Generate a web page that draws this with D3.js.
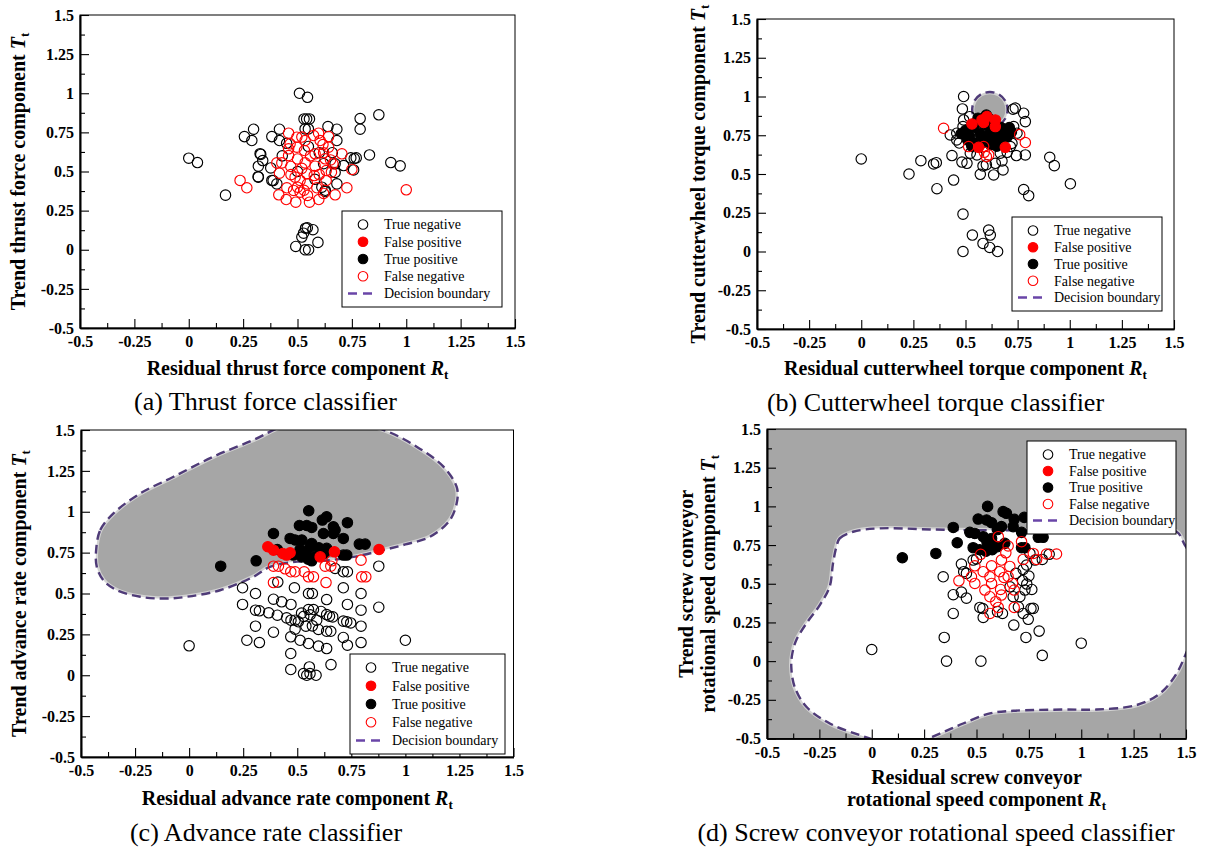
<!DOCTYPE html>
<html>
<head>
<meta charset="utf-8">
<script src="https://cdn.jsdelivr.net/npm/d3@7"></script>
<style>
  body { margin: 0; background: #fff; }
  svg { display: block; }
</style>
</head>
<body>
<svg id="fig" width="1211" height="849"></svg>
<script>
// ---------- shared labels ----------
const legendLabels = ["True negative", "False positive", "True positive", "False negative", "Decision boundary"];
const tickValues = [-0.5, -0.25, 0, 0.25, 0.5, 0.75, 1, 1.25, 1.5];
const tickLabels = ["-0.5", "-0.25", "0", "0.25", "0.5", "0.75", "1", "1.25", "1.5"];
const minorTickValues = [-0.375, -0.125, 0.125, 0.375, 0.625, 0.875, 1.125, 1.375];

// ---------- (a) thrust force classifier: [R_t, T_t] ----------
const thrustTN = [[0.0,0.585],[0.04,0.557],[0.169,0.349],[0.256,0.723],[0.298,0.77],[0.29,0.698],[0.331,0.609],[0.34,0.57],[0.32,0.534],[0.32,0.464],[0.382,0.723],[0.417,0.77],[0.417,0.698],[0.377,0.523],[0.382,0.443],[0.405,0.421],[0.509,1.0],[0.546,0.974],[0.53,0.836],[0.542,0.836],[0.555,0.836],[0.535,0.772],[0.55,0.772],[0.64,0.787],[0.681,0.77],[0.681,0.698],[0.788,0.838],[0.788,0.77],[0.874,0.862],[0.831,0.606],[0.745,0.587],[0.77,0.587],[0.758,0.51],[0.712,0.538],[0.929,0.557],[0.972,0.536],[0.681,0.421],[0.627,0.372],[0.612,0.4],[0.673,0.549],[0.673,0.494],[0.328,0.614],[0.319,0.467],[0.388,0.442],[0.628,0.38],[0.761,0.583],[0.537,0.138],[0.571,0.128],[0.528,0.106],[0.52,0.081],[0.594,0.047],[0.492,0.021],[0.535,0.0],[0.551,0.0],[0.545,0.14],[0.45,0.68],[0.6,0.62],[0.62,0.55],[0.5,0.5],[0.58,0.45],[0.66,0.62],[0.43,0.6],[0.55,0.66]];
const thrustFP = [];
const thrustTP = [];
const thrustFN = [[0.236,0.443],[0.267,0.396],[1.0,0.383],[0.727,0.396],[0.75,0.513],[0.704,0.613],[0.673,0.351],[0.598,0.321],[0.555,0.304],[0.492,0.304],[0.448,0.321],[0.414,0.351],[0.451,0.396],[0.417,0.489],[0.405,0.555],[0.428,0.555],[0.459,0.745],[0.459,0.645],[0.459,0.602],[0.469,0.532],[0.497,0.719],[0.497,0.655],[0.5,0.58],[0.489,0.464],[0.482,0.379],[0.512,0.368],[0.512,0.443],[0.535,0.698],[0.532,0.634],[0.535,0.555],[0.543,0.485],[0.546,0.421],[0.546,0.347],[0.574,0.73],[0.581,0.613],[0.581,0.534],[0.577,0.474],[0.589,0.396],[0.597,0.745],[0.604,0.698],[0.627,0.581],[0.643,0.723],[0.643,0.655],[0.632,0.506],[0.632,0.443],[0.652,0.574],[0.663,0.549],[0.656,0.496],[0.617,0.672],[0.466,0.677],[0.52,0.72],[0.56,0.6],[0.6,0.48],[0.5,0.4],[0.62,0.36],[0.53,0.38],[0.62,0.62],[0.47,0.48],[0.52,0.52]];
const thrustBoundary = null;

// ---------- (b) cutterwheel torque classifier ----------
const torqueTN = [[0,0.597],[0.229,0.5],[0.286,0.586],[0.347,0.565],[0.36,0.573],[0.363,0.405],[0.443,0.461],[0.435,0.619],[0.488,0.241],[0.533,0.106],[0.611,0.138],[0.619,0.106],[0.584,0.052],[0.616,0.026],[0.488,0.0],[0.654,0.0],[0.491,1.0],[0.485,0.92],[0.739,0.925],[0.728,0.918],[0.779,0.892],[0.787,0.838],[0.904,0.608],[0.926,0.554],[1.003,0.437],[0.779,0.4],[0.803,0.36],[0.787,0.623],[0.744,0.619],[0.68,0.526],[0.635,0.494],[0.571,0.498],[0.643,0.569],[0.675,0.584],[0.584,0.552],[0.507,0.569],[0.483,0.577],[0.427,0.752],[0.458,0.763],[0.458,0.72],[0.488,0.806],[0.491,0.849],[0.731,0.806],[0.747,0.763],[0.723,0.698],[0.715,0.677],[0.523,0.634],[0.555,0.623],[0.667,0.634],[0.6,0.56],[0.47,0.7],[0.7,0.64],[0.52,0.87]];
const torqueTP = [[0.5,0.78],[0.52,0.74],[0.54,0.8],[0.55,0.7],[0.57,0.76],[0.59,0.82],[0.6,0.88],[0.62,0.78],[0.63,0.72],[0.65,0.76],[0.67,0.8],[0.69,0.78],[0.7,0.74],[0.66,0.7],[0.58,0.7],[0.53,0.68],[0.56,0.86],[0.61,0.86],[0.64,0.84],[0.48,0.76],[0.51,0.72],[0.6,0.74],[0.68,0.72],[0.72,0.77],[0.62,0.69],[0.55,0.83],[0.65,0.68],[0.71,0.8]];
const torqueFP = [[0.531,0.823],[0.579,0.849],[0.603,0.871],[0.643,0.849],[0.643,0.806],[0.587,0.832],[0.563,0.672],[0.691,0.672]];
const torqueFN = [[0.395,0.795],[0.76,0.754],[0.787,0.703],[0.587,0.677],[0.611,0.623],[0.6,0.612],[0.515,0.677],[0.59,0.64]];
const torqueBoundary = [[0.702,0.915],[0.691,0.972],[0.660,1.014],[0.617,1.029],[0.574,1.014],[0.543,0.972],[0.532,0.915],[0.543,0.858],[0.574,0.816],[0.617,0.801],[0.660,0.816],[0.691,0.858]];

// ---------- (c) advance rate classifier ----------
const advanceTN = [[0,0.18],[1.0,0.214],[0.877,0.667],[0.877,0.416],[0.247,0.535],[0.247,0.433],[0.307,0.5],[0.307,0.398],[0.325,0.394],[0.368,0.382],[0.408,0.367],[0.307,0.3],[0.39,0.263],[0.267,0.214],[0.325,0.2],[0.39,0.465],[0.428,0.449],[0.471,0.433],[0.451,0.351],[0.471,0.337],[0.49,0.337],[0.505,0.327],[0.487,0.535],[0.49,0.282],[0.47,0.235],[0.513,0.214],[0.47,0.133],[0.47,0.035],[0.529,0.01],[0.544,0],[0.559,0.01],[0.587,0],[0.556,0.051],[0.552,0.194],[0.598,0.178],[0.636,0.163],[0.656,0.065],[0.552,0.5],[0.57,0.5],[0.552,0.402],[0.575,0.402],[0.57,0.302],[0.59,0.337],[0.598,0.28],[0.636,0.463],[0.636,0.371],[0.649,0.361],[0.664,0.357],[0.636,0.269],[0.655,0.269],[0.675,0.653],[0.713,0.633],[0.732,0.633],[0.713,0.535],[0.732,0.433],[0.713,0.331],[0.729,0.327],[0.747,0.32],[0.713,0.231],[0.732,0.184],[0.795,0.5],[0.795,0.398],[0.795,0.3],[0.795,0.2],[0.41,0.57],[0.53,0.36],[0.54,0.3],[0.52,0.38],[0.61,0.39],[0.56,0.37]];
const advanceTP = [[0.146,0.667],[0.31,0.7],[0.39,0.867],[0.408,0.769],[0.553,1.006],[0.51,0.916],[0.544,0.916],[0.567,0.904],[0.616,0.949],[0.636,0.969],[0.732,0.933],[0.667,0.908],[0.675,0.888],[0.621,0.867],[0.467,0.837],[0.49,0.827],[0.521,0.827],[0.567,0.806],[0.559,0.786],[0.636,0.776],[0.713,0.837],[0.787,0.802],[0.814,0.802],[0.729,0.735],[0.713,0.735],[0.482,0.735],[0.521,0.724],[0.55,0.71],[0.567,0.7],[0.575,0.724],[0.6,0.735],[0.625,0.745],[0.667,0.867],[0.513,0.769],[0.54,0.75],[0.6,0.78]];
const advanceFP = [[0.364,0.786],[0.39,0.765],[0.433,0.745],[0.451,0.735],[0.672,0.755],[0.878,0.769],[0.606,0.724],[0.467,0.749]];
const advanceFN = [[0.39,0.667],[0.413,0.667],[0.444,0.651],[0.47,0.633],[0.49,0.633],[0.39,0.567],[0.552,0.602],[0.575,0.602],[0.633,0.567],[0.629,0.667],[0.655,0.667],[0.795,0.704],[0.798,0.602],[0.817,0.602],[0.532,0.633],[0.66,0.7]];
const advanceBoundary = [[-0.43,0.766],[-0.411,0.888],[-0.35,0.99],[-0.226,1.112],[-0.072,1.214],[0.112,1.337],[0.297,1.439],[0.45,1.53],[0.7,1.56],[0.9,1.5],[1.052,1.398],[1.176,1.276],[1.237,1.153],[1.24,1.071],[1.206,0.949],[1.114,0.847],[1.0,0.8],[0.88,0.76],[0.76,0.724],[0.62,0.7],[0.5,0.695],[0.374,0.663],[0.297,0.602],[0.143,0.52],[-0.011,0.48],[-0.119,0.469],[-0.226,0.48],[-0.334,0.52],[-0.396,0.58],[-0.427,0.663]];

// ---------- (d) screw conveyor rotational speed classifier ----------
const screwTN = [[0,0.075],[0.357,0],[0.521,0],[0.346,0.153],[0.814,0.037],[1.0,0.116],[0.799,0.194],[0.736,0.153],[0.678,0.233],[0.747,0.27],[0.723,0.308],[0.771,0.341],[0.764,0.463],[0.74,0.498],[0.341,0.545],[0.389,0.429],[0.428,0.446],[0.452,0.407],[0.389,0.308],[0.428,0.627],[0.439,0.578],[0.516,0.347],[0.532,0.282],[0.624,0.308],[0.675,0.416],[0.707,0.416],[0.731,0.459],[0.688,0.567],[0.723,0.593],[0.739,0.621],[0.779,0.653],[0.814,0.657],[0.847,0.69],[0.755,0.696],[0.484,0.653],[0.452,0.567],[0.53,0.34],[0.72,0.52],[0.76,0.34],[0.5,0.66],[0.75,0.55],[0.7,0.35],[0.6,0.32],[0.66,0.48]];
const screwTP = [[0.146,0.668],[0.306,0.696],[0.389,0.864],[0.408,0.765],[0.553,1.0],[0.508,0.918],[0.548,0.912],[0.572,0.894],[0.627,0.966],[0.643,0.955],[0.68,0.916],[0.675,0.869],[0.728,0.929],[0.468,0.832],[0.492,0.825],[0.532,0.804],[0.572,0.793],[0.564,0.733],[0.484,0.733],[0.515,0.72],[0.545,0.71],[0.575,0.72],[0.6,0.74],[0.715,0.832],[0.795,0.8],[0.818,0.8],[0.715,0.733],[0.731,0.733],[0.635,0.761],[0.619,0.869],[0.6,0.85],[0.55,0.77]];
const screwFP = [];
const screwFN = [[0.416,0.519],[0.882,0.692],[0.834,0.692],[0.771,0.696],[0.787,0.657],[0.723,0.657],[0.715,0.772],[0.651,0.744],[0.604,0.804],[0.492,0.616],[0.476,0.545],[0.492,0.502],[0.54,0.459],[0.564,0.416],[0.592,0.384],[0.564,0.308],[0.604,0.347],[0.619,0.427],[0.615,0.463],[0.68,0.459],[0.68,0.347],[0.572,0.616],[0.611,0.578],[0.619,0.653],[0.631,0.541],[0.659,0.612],[0.532,0.578],[0.564,0.545],[0.572,0.502],[0.651,0.547],[0.672,0.502],[0.52,0.69],[0.64,0.7]];
const screwBoundary = [[-0.169,0.737],[-0.153,0.793],[-0.089,0.836],[0.038,0.858],[0.277,0.851],[0.42,0.847],[0.7,0.845],[1.0,0.845],[1.3,0.845],[1.455,0.836],[1.49,0.761],[1.53,0.65],[1.545,0.4],[1.53,0.15],[1.5,0.05],[1.455,-0.08],[1.376,-0.209],[1.264,-0.284],[1.073,-0.313],[0.914,-0.313],[0.675,-0.321],[0.564,-0.338],[0.436,-0.403],[0.325,-0.468],[0.2,-0.53],[0.05,-0.52],[-0.057,-0.478],[-0.2,-0.403],[-0.312,-0.295],[-0.368,-0.166],[-0.384,-0.037],[-0.379,0.05],[-0.36,0.136],[-0.312,0.244],[-0.248,0.362],[-0.201,0.481],[-0.185,0.631]];

// ---------- styling ----------
const FONT = '"Liberation Serif", "Times New Roman", Times, serif';
const RED = "#ff0000";
const GRAY = "#a6a6a6";
const BOUNDARY_COLOR = "#4f3b78";
const LEGEND_DASH = "#6a45a8";
const R = 5.2;

const panels = [
  { id: "a", tn: thrustTN, fp: thrustFP, tp: thrustTP, fn: thrustFN, boundary: thrustBoundary, shadeOutside: false,
    frame: { x0: 80, x1: 515, y0: 15, y1: 328 }, legend: { x: 342, y: 211, w: 160, h: 96 },
    xTitle: ["Residual thrust force component"], xTitleY: [375],
    yTitle: ["Trend thrust force component "], yTitleX: [25],
    caption: "(a) Thrust force classifier", capX: 265.5, capY: 410 },
  { id: "b", tn: torqueTN, fp: torqueFP, tp: torqueTP, fn: torqueFN, boundary: torqueBoundary, shadeOutside: false,
    frame: { x0: 757, x1: 1174, y0: 19, y1: 329 }, legend: { x: 1012, y: 217, w: 150, h: 94 },
    xTitle: ["Residual cutterwheel torque component"], xTitleY: [375],
    yTitle: ["Trend cutterwheel torque component "], yTitleX: [705],
    caption: "(b) Cutterwheel torque classifier", capX: 935.5, capY: 411 },
  { id: "c", tn: advanceTN, fp: advanceFP, tp: advanceTP, fn: advanceFN, boundary: advanceBoundary, shadeOutside: false,
    frame: { x0: 81, x1: 513.5, y0: 430, y1: 757 }, legend: { x: 350, y: 654, w: 155, h: 100 },
    xTitle: ["Residual advance rate component"], xTitleY: [805],
    yTitle: ["Trend advance rate component "], yTitleX: [26],
    caption: "(c) Advance rate classifier", capX: 266, capY: 841 },
  { id: "d", tn: screwTN, fp: screwFP, tp: screwTP, fn: screwFN, boundary: screwBoundary, shadeOutside: true,
    frame: { x0: 767, x1: 1186, y0: 429, y1: 738.5 }, legend: { x: 1027, y: 441, w: 149, h: 93 },
    xTitle: ["Residual screw conveyor", "rotational speed component"], xTitleY: [784, 806],
    yTitle: ["Trend screw conveyor", "rotational speed component"], yTitleX: [693, 715],
    caption: "(d) Screw conveyor rotational speed classifier", capX: 936, capY: 841 }
];

const svg = d3.select("#fig");
const defs = svg.append("defs");

// open / filled circle marker styles for each class
const classStyles = {
  tn: { fill: "none", stroke: "#000" },
  tp: { fill: "#000", stroke: "#000" },
  fp: { fill: RED, stroke: RED },
  fn: { fill: "none", stroke: RED }
};

function drawPoints(g, data, style, x, y) {
  g.append("g").selectAll("circle").data(data).join("circle")
    .attr("cx", d => x(d[0])).attr("cy", d => y(d[1])).attr("r", R)
    .attr("fill", style.fill).attr("stroke", style.stroke).attr("stroke-width", 1.15);
}

// appends " S" in bold italic plus a small subscript t
function appendSymbol(textSel, sym, subSize) {
  textSel.append("tspan").attr("font-style", "italic").text("\u00a0" + sym);
  textSel.append("tspan").attr("font-size", subSize).attr("font-style", "normal").attr("dy", 4).text("t");
}

function drawPanel(p) {
  const f = p.frame;
  const x = d3.scaleLinear().domain([-0.5, 1.5]).range([f.x0, f.x1]);
  const y = d3.scaleLinear().domain([-0.5, 1.5]).range([f.y1, f.y0]);
  const g = svg.append("g").attr("class", "panel-" + p.id);

  const clipId = "clip-" + p.id;
  defs.append("clipPath").attr("id", clipId).append("rect")
    .attr("x", f.x0).attr("y", f.y0).attr("width", f.x1 - f.x0).attr("height", f.y1 - f.y0);

  const plot = g.append("g").attr("clip-path", `url(#${clipId})`);

  // classifier decision region
  if (p.boundary) {
    const line = d3.line().x(d => x(d[0])).y(d => y(d[1])).curve(d3.curveCatmullRomClosed.alpha(0.5));
    const dPath = line(p.boundary);
    if (p.shadeOutside) {
      plot.append("rect").attr("x", f.x0).attr("y", f.y0)
        .attr("width", f.x1 - f.x0).attr("height", f.y1 - f.y0).attr("fill", GRAY);
      plot.append("path").attr("d", dPath).attr("fill", "#fff");
    } else {
      plot.append("path").attr("d", dPath).attr("fill", GRAY);
    }
    plot.append("path").attr("d", dPath).attr("fill", "none")
      .attr("stroke", "#fff").attr("stroke-opacity", 0.5).attr("stroke-width", 4.5);
    plot.append("path").attr("d", dPath).attr("fill", "none")
      .attr("stroke", BOUNDARY_COLOR).attr("stroke-width", 2.4).attr("stroke-dasharray", "9,5");
  }

  // scatter points
  drawPoints(plot, p.tn, classStyles.tn, x, y);
  drawPoints(plot, p.tp, classStyles.tp, x, y);
  drawPoints(plot, p.fp, classStyles.fp, x, y);
  drawPoints(plot, p.fn, classStyles.fn, x, y);

  // frame
  g.append("rect").attr("x", f.x0).attr("y", f.y0)
    .attr("width", f.x1 - f.x0).attr("height", f.y1 - f.y0)
    .attr("fill", "none").attr("stroke", "#000").attr("stroke-width", 1);

  // axes with inward ticks
  const fmt = v => tickLabels[tickValues.indexOf(v)];
  const xAxis = g.append("g").attr("transform", `translate(0,${f.y1})`)
    .call(d3.axisBottom(x).tickValues(tickValues).tickFormat(fmt).tickSizeInner(-9).tickSizeOuter(0).tickPadding(8));
  const xMinor = g.append("g").attr("transform", `translate(0,${f.y1})`)
    .call(d3.axisBottom(x).tickValues(minorTickValues).tickFormat("").tickSizeInner(-5).tickSizeOuter(0));
  const yAxis = g.append("g").attr("transform", `translate(${f.x0},0)`)
    .call(d3.axisLeft(y).tickValues(tickValues).tickFormat(fmt).tickSizeInner(-9).tickSizeOuter(0).tickPadding(6));
  const yMinor = g.append("g").attr("transform", `translate(${f.x0},0)`)
    .call(d3.axisLeft(y).tickValues(minorTickValues).tickFormat("").tickSizeInner(-5).tickSizeOuter(0));
  [xAxis, yAxis, xMinor, yMinor].forEach(a => {
    a.select(".domain").attr("stroke", "#000").attr("stroke-width", 1.6);
    a.selectAll(".tick line").attr("stroke", "#000").attr("stroke-width", 1.1);
    a.selectAll("text").attr("font-family", FONT).attr("font-weight", "bold")
      .attr("font-size", 16).attr("fill", "#000");
  });

  // axis titles
  p.xTitle.forEach((ln, i) => {
    const t = g.append("text").attr("x", (f.x0 + f.x1) / 2).attr("y", p.xTitleY[i])
      .attr("text-anchor", "middle").attr("font-family", FONT).attr("font-weight", "bold")
      .attr("font-size", 20).attr("fill", "#000");
    t.append("tspan").text(ln);
    if (i === p.xTitle.length - 1) appendSymbol(t, "R", 13);
  });
  const cy = (f.y0 + f.y1) / 2;
  p.yTitle.forEach((ln, i) => {
    const t = g.append("text").attr("transform", `translate(${p.yTitleX[i]},${cy}) rotate(-90)`)
      .attr("text-anchor", "middle").attr("font-family", FONT).attr("font-weight", "bold")
      .attr("font-size", 20).attr("fill", "#000");
    t.append("tspan").text(ln.trimEnd());
    if (i === p.yTitle.length - 1) appendSymbol(t, "T", 13);
  });

  // caption
  g.append("text").attr("x", p.capX).attr("y", p.capY).attr("text-anchor", "middle")
    .attr("font-family", FONT).attr("font-size", 26).attr("fill", "#000").text(p.caption);

  // legend
  const L = p.legend;
  const lg = g.append("g");
  lg.append("rect").attr("x", L.x).attr("y", L.y).attr("width", L.w).attr("height", L.h)
    .attr("fill", "#fff").attr("stroke", "#000").attr("stroke-width", 1);
  const step = (L.h - 27) / 4;
  const keys = ["tn", "fp", "tp", "fn"];
  legendLabels.forEach((lab, i) => {
    const ry = L.y + 13.5 + i * step;
    if (i < 4) {
      const s = classStyles[keys[i]];
      lg.append("circle").attr("cx", L.x + 21).attr("cy", ry).attr("r", 4.8)
        .attr("fill", s.fill).attr("stroke", s.stroke).attr("stroke-width", 1.1);
    } else {
      lg.append("line").attr("x1", L.x + 6).attr("x2", L.x + 32).attr("y1", ry).attr("y2", ry)
        .attr("stroke", LEGEND_DASH).attr("stroke-width", 2.4).attr("stroke-dasharray", "9,6");
    }
    lg.append("text").attr("x", L.x + 42).attr("y", ry).attr("dy", "0.35em")
      .attr("font-family", FONT).attr("font-size", 14).attr("fill", "#000").text(lab);
  });
}

panels.forEach(drawPanel);
</script>
</body>
</html>
